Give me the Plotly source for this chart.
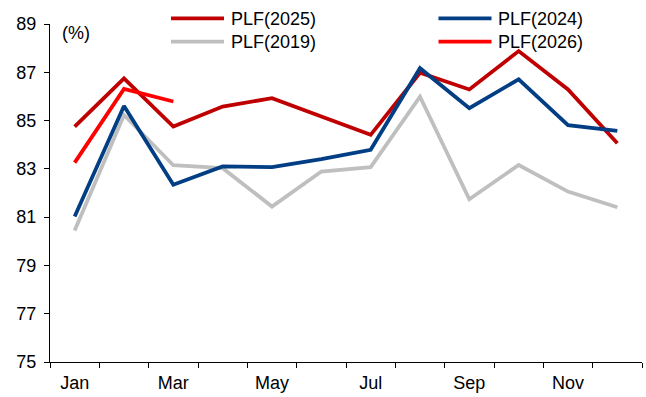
import plotly.graph_objects as go

# Monthly passenger load factor (%)
months = ["Jan", "Feb", "Mar", "Apr", "May", "Jun",
          "Jul", "Aug", "Sep", "Oct", "Nov", "Dec"]
month_idx = list(range(1, 13))

plf_2025 = [84.75, 86.75, 84.75, 85.58, 85.93, 85.17, 84.41, 86.98, 86.29, 87.88, 86.29, 84.06]
plf_2024 = [81.03, 85.60, 82.34, 83.10, 83.07, 83.40, 83.79, 87.17, 85.51, 86.71, 84.81, 84.57]
plf_2019 = [80.45, 85.23, 83.15, 83.03, 81.44, 82.89, 83.07, 85.99, 81.74, 83.16, 82.06, 81.41]
plf_2026 = [83.26, 86.31, 85.79]

y_ticks = [75, 77, 79, 81, 83, 85, 87, 89]
x_tick_months = ["Jan", "Mar", "May", "Jul", "Sep", "Nov"]

series = [
    # name, values, colour  (drawing order: first is underneath)
    ("PLF(2019)", plf_2019, "#BFBFBF"),
    ("PLF(2025)", plf_2025, "#C00000"),
    ("PLF(2024)", plf_2024, "#023E84"),
    ("PLF(2026)", plf_2026, "#FF0000"),
]

FONT = "Liberation Sans, Arial, sans-serif"
FS = 18
W, H = 646, 397
M = dict(l=50, r=4, t=24, b=35)

fig = go.Figure()
for name, vals, color in series:
    fig.add_trace(go.Scatter(
        x=month_idx[:len(vals)], y=vals, mode="lines", name=name,
        line=dict(color=color, width=3.8), showlegend=False,
    ))

# Two-column legend drawn with shapes and text
pw = W - M["l"] - M["r"]
ph = H - M["t"] - M["b"]
def px_x(px):
    return (px - M["l"]) / pw
def px_y(py):
    return (H - M["b"] - py) / ph

legend_items = [
    ("PLF(2025)", "#C00000", 171, 18.3),
    ("PLF(2024)", "#023E84", 438.5, 18.3),
    ("PLF(2019)", "#BFBFBF", 171, 41.7),
    ("PLF(2026)", "#FF0000", 438.5, 41.7),
]
for label, color, x0, yy in legend_items:
    fig.add_shape(type="line", xref="paper", yref="paper",
                  x0=px_x(x0), x1=px_x(x0 + 53), y0=px_y(yy), y1=px_y(yy),
                  line=dict(color=color, width=3.8))
    fig.add_annotation(text=label, xref="paper", yref="paper",
                       x=px_x(x0 + 57.5), y=px_y(yy + 0.5), xanchor="left", yanchor="middle",
                       showarrow=False, font=dict(family=FONT, size=FS, color="#000"))

fig.add_annotation(text="(%)", xref="paper", yref="paper",
                   x=px_x(76), y=px_y(33), xanchor="center", yanchor="middle",
                   showarrow=False, font=dict(family=FONT, size=FS, color="#000"))

fig.update_layout(
    width=W, height=H, margin=M,
    paper_bgcolor="white", plot_bgcolor="white",
    font=dict(family=FONT, size=FS, color="#000"),
    showlegend=False,
)
fig.update_xaxes(
    range=[0.5, 12.5],
    tickvals=[month_idx[months.index(m)] for m in x_tick_months],
    ticktext=x_tick_months,
    ticks="", showgrid=False, zeroline=False,
    showline=True, linecolor="black", linewidth=1.2,
    minor=dict(ticks="outside", tick0=0.5, dtick=1, ticklen=5,
               tickcolor="black", tickwidth=1.2, showgrid=False),
    tickfont=dict(size=FS),
    ticklabelstandoff=4,
)
fig.update_yaxes(
    range=[75, 89], tickvals=y_ticks,
    ticks="outside", ticklen=5, tickcolor="black", tickwidth=1.2,
    showgrid=False, zeroline=False,
    showline=True, linecolor="black", linewidth=1.2,
    tickfont=dict(size=FS),
    ticklabelstandoff=4,
)

fig.write_html("out.html")
